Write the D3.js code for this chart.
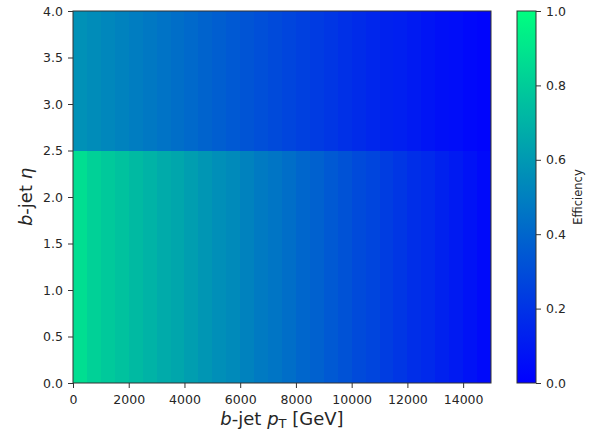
<!DOCTYPE html>
<html><head><meta charset="utf-8">
<script src="https://cdn.jsdelivr.net/npm/d3@7"></script>
<style>body{margin:0;background:#fff}svg{display:block}text{font-family:"DejaVu Sans",sans-serif;fill:#262626}</style>
</head><body><svg id="c" width="596" height="434"></svg>
<script>
// pT bin edges (GeV) – 30 bins of 500 GeV
const ptEdges = d3.range(0, 15001, 500);
// eta bin edges
const etaEdges = [0, 2.5, 4.0];
// efficiency for |eta| < 2.5
const effCentral = [0.87,0.82,0.79,0.76,0.73,0.70,0.67,0.65,0.62,0.59,0.56,0.54,0.51,0.48,0.46,0.43,0.40,0.38,0.35,0.32,0.29,0.27,0.24,0.21,0.18,0.16,0.13,0.10,0.07,0.04];
// efficiency for 2.5 < |eta| < 4.0
const effForward = [0.57,0.55,0.53,0.51,0.49,0.47,0.45,0.43,0.41,0.39,0.37,0.35,0.33,0.31,0.29,0.27,0.25,0.23,0.21,0.19,0.17,0.15,0.13,0.12,0.10,0.08,0.06,0.05,0.03,0.02];
const xTicks = [0,2000,4000,6000,8000,10000,12000,14000];
const yTicks = [0,0.5,1.0,1.5,2.0,2.5,3.0,3.5,4.0];
const cTicks = [0,0.2,0.4,0.6,0.8,1.0];

const svg = d3.select("#c");
const L=73,R=491,T=11,B=383;
const x = d3.scaleLinear().domain([0,15000]).range([L,R]);
const y = d3.scaleLinear().domain([0,4]).range([B,T]);
const color = d3.scaleSequential(d3.interpolateRgb("#0000ff","#00ff80")).domain([0,1]);

const cells=[];
[effCentral, effForward].forEach((row,j)=>{
  row.forEach((v,i)=>cells.push({x0:ptEdges[i],x1:ptEdges[i+1],y0:etaEdges[j],y1:etaEdges[j+1],v}));
});
svg.append("g").attr("shape-rendering","crispEdges").selectAll("rect").data(cells).join("rect")
  .attr("x",d=>Math.round(x(d.x0))).attr("width",d=>Math.round(x(d.x1))-Math.round(x(d.x0)))
  .attr("y",d=>Math.round(y(d.y1))).attr("height",d=>Math.round(y(d.y0))-Math.round(y(d.y1)))
  .attr("fill",d=>color(d.v));

svg.append("rect").attr("x",L).attr("y",T).attr("width",R-L).attr("height",B-T)
  .attr("fill","none").attr("stroke","#333").attr("stroke-width",1);

const fmtX = d=>String(d);
const gx = svg.append("g").attr("transform",`translate(0,${B})`)
  .call(d3.axisBottom(x).tickValues(xTicks).tickFormat(fmtX).tickSize(5).tickPadding(7));
const gy = svg.append("g").attr("transform",`translate(${L},0)`)
  .call(d3.axisLeft(y).tickValues(yTicks).tickFormat(d3.format(".1f")).tickSize(5).tickPadding(5));
[gx,gy].forEach(g=>{
  g.select(".domain").remove();
  g.selectAll("line").attr("stroke","#333");
  g.selectAll("text").style("font-family","DejaVu Sans").attr("font-size",12.5).attr("fill","#262626");
});

// colorbar
const cL=517,cR=536;
const cy = d3.scaleLinear().domain([0,1]).range([B,T]);
const defs=svg.append("defs");
const grad=defs.append("linearGradient").attr("id","cg").attr("x1",0).attr("y1",1).attr("x2",0).attr("y2",0);
d3.range(0,1.0001,0.05).forEach(t=>grad.append("stop").attr("offset",t).attr("stop-color",color(t)));
svg.append("rect").attr("x",cL).attr("y",T).attr("width",cR-cL).attr("height",B-T)
  .attr("fill","url(#cg)").attr("stroke","#333").attr("stroke-width",1);
const gc = svg.append("g").attr("transform",`translate(${cR},0)`)
  .call(d3.axisRight(cy).tickValues(cTicks).tickFormat(d3.format(".1f")).tickSize(5).tickPadding(5));
gc.select(".domain").remove();
gc.selectAll("line").attr("stroke","#333");
gc.selectAll("text").style("font-family","DejaVu Sans").attr("font-size",12.5).attr("fill","#262626");

svg.append("text").attr("transform","translate(582,197) rotate(-90)").attr("text-anchor","middle")
  .attr("font-size",11.5).text("Efficiency");

// x label
const xl = svg.append("text").attr("x",(L+R)/2).attr("y",425).attr("text-anchor","middle").attr("font-size",18);
xl.append("tspan").attr("font-style","italic").text("b");
xl.append("tspan").text("-jet ");
xl.append("tspan").attr("font-style","italic").text("p");
xl.append("tspan").attr("font-size",13).attr("dy",3).text("T");
xl.append("tspan").attr("dy",-3).text(" [GeV]");

// y label
const yl = svg.append("text").attr("transform",`translate(32,${(T+B)/2}) rotate(-90)`).attr("text-anchor","middle").attr("font-size",18);
yl.append("tspan").attr("font-style","italic").text("b");
yl.append("tspan").text("-jet ");
yl.append("tspan").attr("font-style","italic").text("η");
</script></body></html>
